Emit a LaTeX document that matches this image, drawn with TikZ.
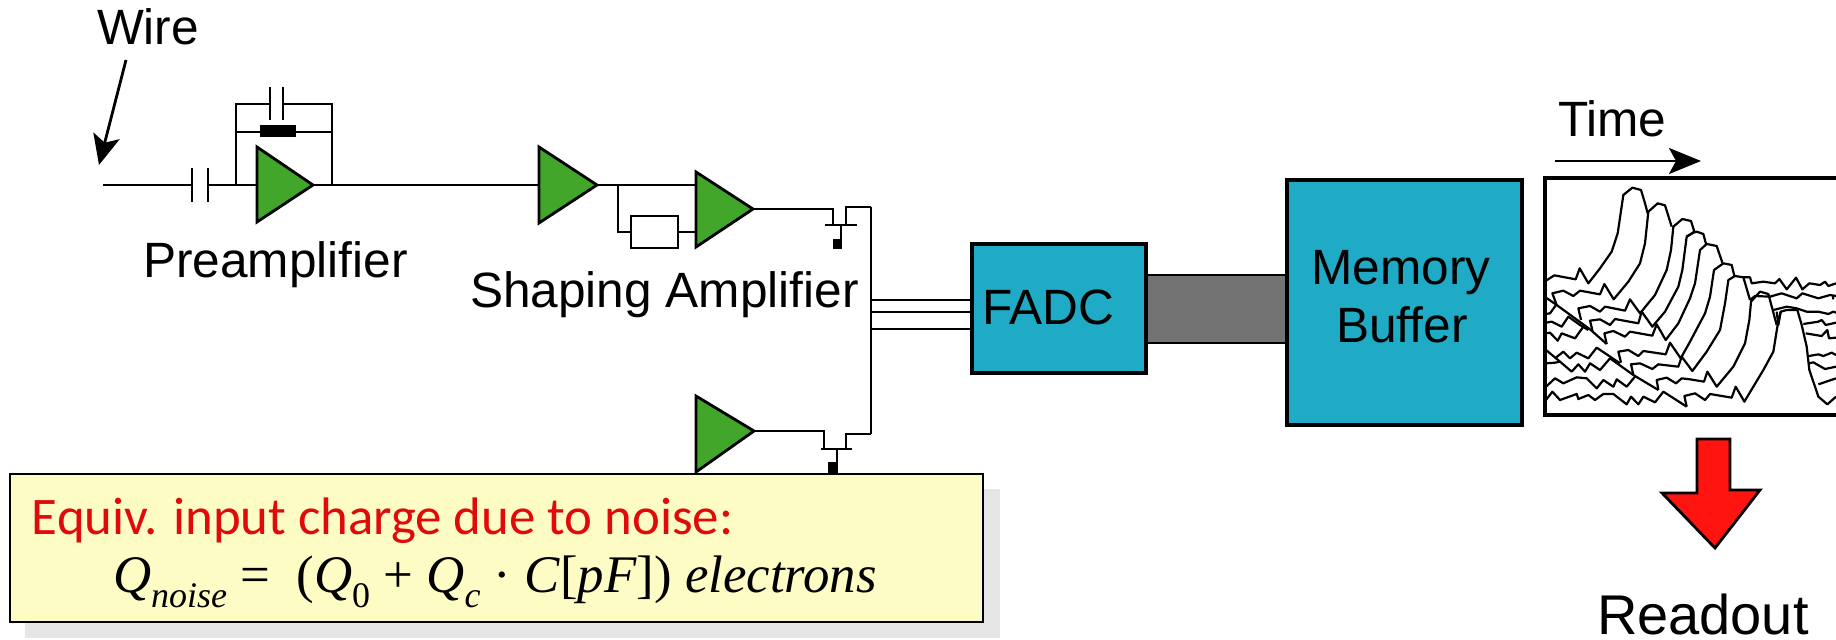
\documentclass[tikz,border=0pt]{standalone}
\usepackage{fontspec}
\setmainfont{Liberation Sans}
\newfontfamily\calib{Carlito}
\newfontfamily\formfont{Liberation Serif}
\usetikzlibrary{arrows.meta,calc}
\definecolor{ampgreen}{HTML}{41A62A}
\definecolor{boxblue}{HTML}{1FAAC6}
\definecolor{busgray}{HTML}{737373}
\definecolor{noteyellow}{HTML}{FCFCC4}
\definecolor{notered}{HTML}{E00A0A}
\definecolor{arrowred}{HTML}{FF1410}
\definecolor{shadowgray}{HTML}{E6E6E6}
\tikzset{
  wire/.style={draw=black,line width=1.4pt},
  amptri/.style={draw=black,line width=1.4pt,fill=ampgreen,line join=miter},
  blockbox/.style={draw=black,line width=1.6pt,fill=boxblue,rectangle,inner sep=0pt,outer sep=0pt},
  lbl/.style={inner sep=0pt,outer sep=0pt,anchor=base west,font=\fontsize{24.8}{29}\selectfont},
  clbl/.style={inner sep=0pt,outer sep=0pt,anchor=base,font=\fontsize{24.8}{29}\selectfont},
  trace/.style={draw=black,line width=1.1pt,line join=round},
  blob/.style={fill=black,draw=none},
}
% amplifier triangle: name, left x, top y, bottom y, tip x
\newcommand{\amptriangle}[6]{%
  \coordinate (#1-in) at (#2,#6);
  \coordinate (#1-out) at (#5,#6);
  \draw[amptri] (#2,#3) -- (#2,#4) -- (#1-out) -- cycle;
}
\newcommand{\sbs}[1]{\raisebox{-0.28em}{\fontsize{18}{18}\selectfont\itshape #1}}
\begin{document}
\begin{tikzpicture}[x=0.5pt,y=-0.5pt]
\useasboundingbox (0,0) rectangle (1836,640);

% labels
\node[lbl] (wirelbl) at (97,45) {Wire};
\node[lbl] (prelbl) at (143,278) {Preamplifier};
\node[lbl] (shapelbl) at (470,308) {Shaping Amplifier};
\node[lbl] (timelbl) at (1558,137) {Time};
\node[inner sep=0pt,outer sep=0pt,anchor=base west,font=\fontsize{28}{32}\selectfont] (readlbl) at (1597,634) {Readout};

% wire arrow
\coordinate (wirestart) at (126,60);
\coordinate (wiretip) at (99,165);
\draw[wire,-{Stealth[length=15pt,width=13.5pt,inset=3.5pt]}] (wirestart) -- (wiretip);

% preamp feedback
\coordinate (inl) at (103,185);
\coordinate (capa) at (192,185);
\coordinate (capb) at (208,185);
\coordinate (fbl) at (236,185);
\coordinate (fbr) at (332,185);
\coordinate (ftl) at (236,104);
\coordinate (ftr) at (332,104);
\coordinate (fca) at (270,104);
\coordinate (fcb) at (283,104);
\coordinate (frl) at (236,132);
\coordinate (frr) at (332,132);
\draw[wire] (inl) -- (capa) (capb) -- (fbl);
\draw[wire] (capa |- 0,168) -- (capa |- 0,202);
\draw[wire] (capb |- 0,168) -- (capb |- 0,202);
\draw[wire] (fbl) -- (ftl) -- (fca) (fcb) -- (ftr) -- (fbr);
\draw[wire] (fca |- 0,87) -- (fca |- 0,120);
\draw[wire] (fcb |- 0,87) -- (fcb |- 0,120);
\draw[wire] (frl) -- (frr);
\fill[black] (260,125) rectangle (296,137);
\draw[wire] (fbl) -- (257,185);

% amplifiers
\amptriangle{ampa}{257}{147}{222}{313}{185}
\amptriangle{ampb}{539}{147}{223}{597}{185}
\amptriangle{ampc}{696}{172}{247}{753}{209}
\amptriangle{ampd}{696}{396}{472}{754}{431}
\draw[wire] (ampa-out) -- (ampb-in);
\draw[wire] (ampb-out) -- (ampb-out -| ampc-in);

% shaping network
\node[draw=black,line width=1.4pt,fill=white,minimum width=23.5pt,minimum height=16pt,inner sep=0pt,outer sep=0pt,rectangle] (shres) at (654.5,232) {};
\coordinate (sh1) at (618,185);
\coordinate (sh2) at (618,232);
\draw[wire] (sh1) -- (sh2) -- (shres.west);
\draw[wire] (shres.east) -- (696,232);

% top switch
\coordinate (tg) at (833,209);
\coordinate (tgb) at (833,225);
\coordinate (td) at (846,225);
\coordinate (tdt) at (846,207);
\coordinate (bus1) at (871,207);
\draw[wire] (ampc-out) -- (tg) -- (tgb);
\draw[wire] (td) -- (tdt) -- (bus1);
\draw[wire] (825,225) -- (857,225);
\draw[wire] (841,225) -- (841,241);
\fill[blob] (833,239) rectangle (842,249);

% bottom switch
\coordinate (bg) at (824,431);
\coordinate (bgb) at (824,449);
\coordinate (bd) at (846,449);
\coordinate (bdt) at (846,434);
\coordinate (bus2) at (871,434);
\draw[wire] (ampd-out) -- (bg) -- (bgb);
\draw[wire] (bd) -- (bdt) -- (bus2);
\draw[wire] (821,449) -- (852,449);
\draw[wire] (837,449) -- (837,470);
\fill[blob] (828,462) rectangle (838,474);
\draw[wire,line cap=square] (bus1) -- (bus2);

% blocks
\node[draw=black,line width=1.4pt,fill=busgray,minimum width=70.5pt,minimum height=34pt,inner sep=0pt,outer sep=0pt,rectangle] (bus) at (1216.5,309) {};
\node[blockbox,minimum width=87pt,minimum height=64.5pt] (fadc) at (1059,308.5) {};
\node[blockbox,minimum width=117.5pt,minimum height=122.5pt] (mem) at (1404.5,302.5) {};
\node[lbl] (fadclbl) at (982,325) {FADC};
\node[clbl] (memlbl) at (1401,285) {Memory};
\node[clbl] (buflbl) at (1402,343) {Buffer};
\draw[wire] (bus1 |- 0,300) -- (fadc.west |- 0,300);
\draw[wire] (bus1 |- 0,312) -- (fadc.west |- 0,312);
\draw[wire] (bus1 |- 0,329) -- (fadc.west |- 0,329);

% time arrow and plot
\coordinate (timea) at (1555,161);
\coordinate (timeb) at (1701,161);
\draw[wire,-{Stealth[length=16pt,width=13pt,inset=3.5pt]}] (timea) -- (timeb);
\draw[draw=black,line width=1.6pt] (1900,178) -- (1545,178) -- (1545,415) -- (1900,415);

% waveforms (coordinates in 3x crop units)
\begin{scope}[shift={(1545,170)},x=0.16667pt,y=-0.16667pt]
\draw[trace] (3,332)--(28,316)--(92,328)--(104,295)--(130,340)--(165,295)--(200,245)--(218,190)--(235,75)--(262,53)--(288,60)--(300,100)--(308,130);
\draw[trace] (35,405)--(22,370)--(55,362)--(85,378)--(105,362)--(165,373)--(178,342)--(206,388)--(250,335)--(285,280)--(300,220)--(310,125)--(338,100)--(360,106)--(380,170);
\draw[trace] (108,450)--(100,415)--(135,408)--(165,425)--(180,410)--(240,422)--(255,388)--(285,430)--(330,375)--(365,300)--(378,240)--(385,170)--(412,147)--(438,153)--(448,185)--(425,200);
\draw[trace] (143,485)--(135,452)--(165,448)--(195,465)--(210,447)--(280,460)--(290,425)--(322,470)--(360,425)--(400,350)--(412,300)--(425,200)--(445,188)--(455,185)--(475,192)--(483,222);
\draw[trace] (185,522)--(178,490)--(205,483)--(240,500)--(255,485)--(322,497)--(335,463)--(362,510)--(400,460)--(435,385)--(450,340)--(465,240)--(485,222)--(515,228)--(532,278);
\draw[trace] (228,578)--(220,545)--(250,540)--(280,558)--(295,543)--(362,553)--(375,518)--(407,565)--(435,515)--(480,430)--(495,380)--(507,300)--(535,280)--(560,285)--(568,318);
\draw[trace] (265,615)--(258,583)--(285,580)--(322,597)--(340,583)--(400,590)--(410,560)--(442,603)--(485,545)--(525,480)--(540,400)--(550,330)--(570,318)--(595,322)--(615,390);
\draw[trace] (340,660)--(335,630)--(365,623)--(393,640)--(410,625)--(435,628)--(477,635)--(487,605)--(515,650)--(565,590)--(600,520)--(613,450)--(618,395)--(645,365)--(670,372)--(695,465);
\draw[trace] (425,710)--(418,678)--(450,670)--(480,690)--(495,672)--(560,683)--(572,650)--(598,695)--(655,600)--(685,545)--(697,470)--(707,425);
% left parts
\draw[trace] (3,383)--(35,405)--(135,478)--(185,522);
\draw[trace] (3,432)--(15,430)--(33,405);
\draw[trace] (3,458)--(20,455)--(50,470)--(70,440)--(105,465)--(130,480);
\draw[trace] (3,490)--(15,488)--(38,512)--(50,490)--(90,505)--(115,470);
\draw[trace] (3,540)--(45,575)--(80,605)--(100,583)--(120,605)--(135,580)--(165,600)--(195,565)--(265,615)--(340,660);
\draw[trace] (30,565)--(55,545)--(75,565)--(95,548)--(130,565)--(155,533)--(185,553)--(225,580);
\draw[trace] (3,580)--(30,578)--(45,575);
\draw[trace] (3,650)--(30,625)--(55,640)--(95,622)--(125,625)--(155,655)--(175,630)--(205,650)--(215,628)--(245,650)--(270,620);
\draw[trace] (3,690)--(22,665)--(45,690)--(95,672)--(100,687)--(130,675)--(150,690)--(175,672)--(205,672)--(245,703)--(258,680)--(280,703)--(295,680)--(330,697)--(355,665)--(425,710);
% right parts
\draw[trace] (595,322)--(615,322)--(620,340)--(655,335)--(690,340)--(703,327)--(725,358)--(753,323)--(772,358)--(793,340)--(825,345)--(840,335)--(850,348)--(873,340);
\draw[trace] (615,390)--(630,378)--(675,380)--(710,370)--(755,385)--(772,370)--(820,385)--(855,375)--(873,378);
\draw[trace] (863,375)--(865,388);
\draw[trace] (685,420)--(725,410)--(755,415)--(785,425)--(820,425)--(850,432)--(865,425)--(873,428);
\draw[trace] (775,462)--(820,455)--(830,450)--(842,465)--(873,458);
\draw[trace] (782,490)--(830,498)--(847,480)--(852,505)--(873,503);
\draw[trace] (792,558)--(820,553)--(835,558)--(860,548)--(873,555);
\draw[trace] (793,580)--(805,577)--(840,597)--(873,590);
\draw[trace] (820,643)--(873,625);
\draw[trace] (757,420)--(770,465)--(785,530)--(793,600)--(820,680)--(847,703)--(873,680);
\draw[trace] (695,425)--(700,465)--(707,425)--(725,420)--(757,420);
\end{scope}

% readout arrow
\draw[draw=black,line width=1.4pt,fill=arrowred,line join=miter] (1697,439) -- (1730,439) -- (1730,490) -- (1760,490) -- (1715,548) -- (1662,493) -- (1697,493) -- cycle;

% note box
\fill[shadowgray] (25,489) rectangle (1000,638);
\node[draw=black,line width=1.3pt,fill=noteyellow,minimum width=486.5pt,minimum height=74pt,inner sep=0pt,outer sep=0pt,rectangle] (note) at (496.5,548) {};
\node[inner sep=0pt,outer sep=0pt,anchor=base west,text=notered,font=\calib\fontsize{26.4}{31}\selectfont] (notetxt) at (32,535) {Equiv. input charge due to noise:};
\node[inner sep=0pt,outer sep=0pt,anchor=base west,font=\formfont\fontsize{26.4}{30}\selectfont] (formula) at (113,593) {\textit{Q}\sbs{noise} = \ (\textit{Q}\sbs{\upshape 0} + \textit{Q}\sbs{c} · \textit{C}[\textit{pF}]) \textit{electrons}};
\end{tikzpicture}
\end{document}
